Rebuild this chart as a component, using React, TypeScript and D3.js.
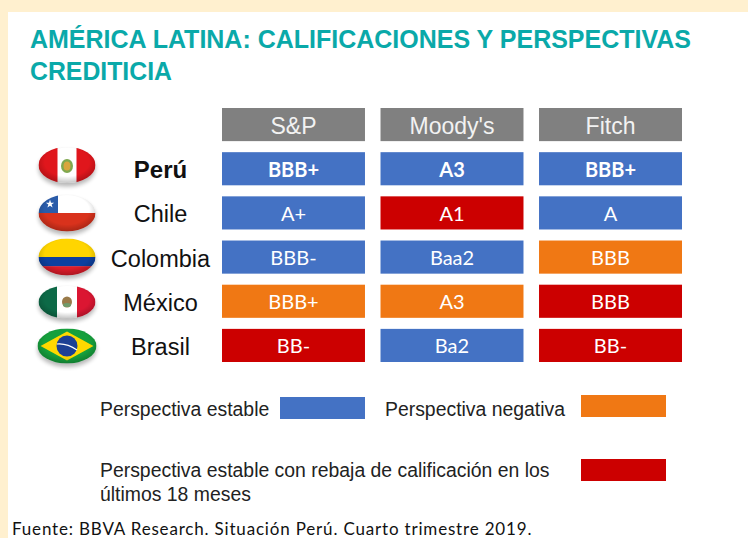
import React from "react";
import * as d3 from "d3";

const agencies = ["S&P", "Moody's", "Fitch"];
const countries = ["Perú", "Chile", "Colombia", "México", "Brasil"];

// rating per country, one list per agency
const spRatings = ["BBB+", "A+", "BBB-", "BBB+", "BB-"];
const moodysRatings = ["A3", "A1", "Baa2", "A3", "Ba2"];
const fitchRatings = ["BBB+", "A", "BBB", "BBB", "BB-"];

// e = estable, n = negativa, r = rebaja
const spStatus = ["e", "e", "e", "n", "r"];
const moodysStatus = ["e", "r", "e", "n", "e"];
const fitchStatus = ["e", "e", "n", "r", "r"];

const ratings = [spRatings, moodysRatings, fitchRatings];
const statuses = [spStatus, moodysStatus, fitchStatus];

const statusKeys = ["e", "n", "r"];
const statusColors = ["#4472C4", "#F07814", "#CC0000"];

const titleLines = ["AMÉRICA LATINA: CALIFICACIONES Y PERSPECTIVAS", "CREDITICIA"];
const titleWidths = [661, 142];
const legendStable = "Perspectiva estable";
const legendNegative = "Perspectiva negativa";
const legendCutLines = ["Perspectiva estable con rebaja de calificación en los", "últimos 18 meses"];
const sourceText = "Fuente: BBVA Research. Situación Perú. Cuarto trimestre 2019.";

const width = 748;
const height = 538;
const sans = "'Liberation Sans', Arial, sans-serif";
const cellFont = "Lato, 'Open Sans', sans-serif";

const x = d3.scaleBand().domain(agencies).range([222, 682]).paddingInner(0.098);
const y = d3.scaleBand().domain(["header", ...countries]).range([108, 362]).paddingInner(0.25);
const color = d3.scaleOrdinal<string, string>().domain(statusKeys).range(statusColors);

// flag is drawn around 0,0 and clipped to the oval
const Flag = ({ name, rx, ry }: { name: string; rx: number; ry: number }) => {
  let art: React.ReactNode = null;
  if (name === "Perú") {
    art = (
      <>
        <rect x={-rx} y={-ry} width={rx * 2} height={ry * 2} fill="#E0121F" />
        <rect x={-9.5} y={-ry} width={19} height={ry * 2} fill="#fff" />
        <ellipse cx={0} cy={1} rx={6} ry={7} fill="#7fa850" />
        <ellipse cx={0} cy={1} rx={3.5} ry={4.5} fill="#d9a53c" />
      </>
    );
  } else if (name === "Chile") {
    art = (
      <>
        <rect x={-rx} y={-ry} width={rx * 2} height={ry} fill="#fff" />
        <rect x={-rx} y={0} width={rx * 2} height={ry} fill="#D9301C" />
        <rect x={-rx} y={-ry} width={rx - 9} height={ry} fill="#2A5CAA" />
        <path d={d3.symbol().type(d3.symbolStar).size(22)() as string} transform="translate(-17,-9)" fill="#fff" />
      </>
    );
  } else if (name === "Colombia") {
    art = (
      <>
        <rect x={-rx} y={-ry} width={rx * 2} height={ry} fill="#FFD500" />
        <rect x={-rx} y={0} width={rx * 2} height={ry / 2} fill="#0B3FA0" />
        <rect x={-rx} y={ry / 2} width={rx * 2} height={ry / 2} fill="#DE1B2B" />
      </>
    );
  } else if (name === "México") {
    art = (
      <>
        <rect x={-rx} y={-ry} width={rx * 2} height={ry * 2} fill="#fff" />
        <rect x={-rx} y={-ry} width={rx - 10} height={ry * 2} fill="#0B6B47" />
        <rect x={10} y={-ry} width={rx - 10} height={ry * 2} fill="#DB1530" />
        <ellipse cx={0} cy={0} rx={5} ry={5.5} fill="#9a7a4a" />
        <ellipse cx={0} cy={3} rx={4} ry={2} fill="#6f9a6a" />
      </>
    );
  } else {
    art = (
      <>
        <rect x={-rx} y={-ry} width={rx * 2} height={ry * 2} fill="#12A03C" />
        <path d={`M${-rx + 3},0L0,${-ry + 3}L${rx - 3},0L0,${ry - 3}Z`} fill="#FFD800" />
        <circle r={10.5} fill="#1C3F94" />
        <path d="M-10,-2Q0,-3 10,4" fill="none" stroke="#fff" strokeWidth={1.2} />
      </>
    );
  }
  const id = `clip-${countries.indexOf(name)}`;
  return (
    <g>
      <ellipse cx={0} cy={3.5} rx={rx} ry={ry} fill="#000" opacity={0.28} filter="url(#flagShadow)" />
      <clipPath id={id}>
        <ellipse rx={rx} ry={ry} />
      </clipPath>
      <g clipPath={`url(#${id})`}>
        <g filter="url(#soft)">{art}</g>
        <ellipse rx={rx} ry={ry} fill="url(#flagShade)" />
      </g>
    </g>
  );
};

const flagCy = [165, 213, 257, 302, 346];
const flagRy = [18, 18.5, 18.5, 16.5, 17.5];

export default function App() {
  return (
    <svg
      width={width}
      height={height}
      viewBox={`0 0 ${width} ${height}`}
      style={{ position: "fixed", left: 0, top: 0, display: "block" }}
    >
      <defs>
        <radialGradient id="flagShade" cx="50%" cy="42%" r="60%">
          <stop offset="65%" stopColor="#000" stopOpacity={0} />
          <stop offset="100%" stopColor="#000" stopOpacity={0.25} />
        </radialGradient>
        <filter id="flagShadow" x="-20%" y="-20%" width="140%" height="150%">
          <feGaussianBlur stdDeviation={2} />
        </filter>
        <filter id="soft">
          <feGaussianBlur stdDeviation={0.5} />
        </filter>
      </defs>

      <rect width={width} height={height} fill="#FFF0CF" />
      <rect x={8} y={12} width={width - 8} height={height - 12} fill="#fff" />

      {/* Title */}
      {titleLines.map((line, i) => (
        <text
          key={line}
          x={30}
          y={48 + i * 32}
          fill="#0AA9A9"
          fontFamily={sans}
          fontWeight={700}
          fontSize={25}
          textLength={titleWidths[i]}
          lengthAdjust="spacingAndGlyphs"
        >
          {line}
        </text>
      ))}

      {/* Header */}
      {agencies.map((a) => (
        <g key={a}>
          <rect x={x(a)} y={y("header")} width={x.bandwidth()} height={y.bandwidth()} fill="#808080" />
          <text
            x={x(a)! + x.bandwidth() / 2}
            y={y("header")! + 26}
            textAnchor="middle"
            fill="#F2F2F2"
            fontFamily={sans}
            fontSize={23}
          >
            {a}
          </text>
        </g>
      ))}

      {/* Rows */}
      {countries.map((c, r) => (
        <g key={c}>
          <g transform={`translate(67,${flagCy[r]})`}>
            <Flag name={c} rx={c === "Brasil" ? 29.5 : 28.5} ry={flagRy[r]} />
          </g>
          <text
            x={160.5}
            y={y(c)! + 26}
            textAnchor="middle"
            fill="#111"
            fontFamily={sans}
            fontSize={r === 0 ? 24 : 23.5}
            fontWeight={r === 0 ? 700 : 400}
          >
            {c}
          </text>
          {agencies.map((a, k) => (
            <g key={a}>
              <rect x={x(a)} y={y(c)} width={x.bandwidth()} height={y.bandwidth()} fill={color(statuses[k][r])} />
              <text
                x={x(a)! + x.bandwidth() / 2}
                y={y(c)! + 24.5}
                textAnchor="middle"
                fill="#fff"
                fontFamily={cellFont}
                fontSize={20}
                fontWeight={r === 0 ? 700 : 400}
              >
                {ratings[k][r]}
              </text>
            </g>
          ))}
        </g>
      ))}

      {/* Legend */}
      <text x={100} y={416} fill="#222" fontFamily={sans} fontSize={19.4}>
        {legendStable}
      </text>
      <rect x={280} y={397} width={85} height={22} fill={color("e")} />
      <text x={385} y={416} fill="#222" fontFamily={sans} fontSize={19.4}>
        {legendNegative}
      </text>
      <rect x={581} y={395} width={85} height={22} fill={color("n")} />
      {legendCutLines.map((line, i) => (
        <text key={line} x={100} y={477 + i * 24} fill="#222" fontFamily={sans} fontSize={19.4}>
          {line}
        </text>
      ))}
      <rect x={581} y={459} width={85} height={22} fill={color("r")} />

      {/* Source */}
      <text x={12} y={534.5} fill="#111" fontFamily={cellFont} fontSize={17} letterSpacing={0.82}>
        {sourceText}
      </text>
    </svg>
  );
}
